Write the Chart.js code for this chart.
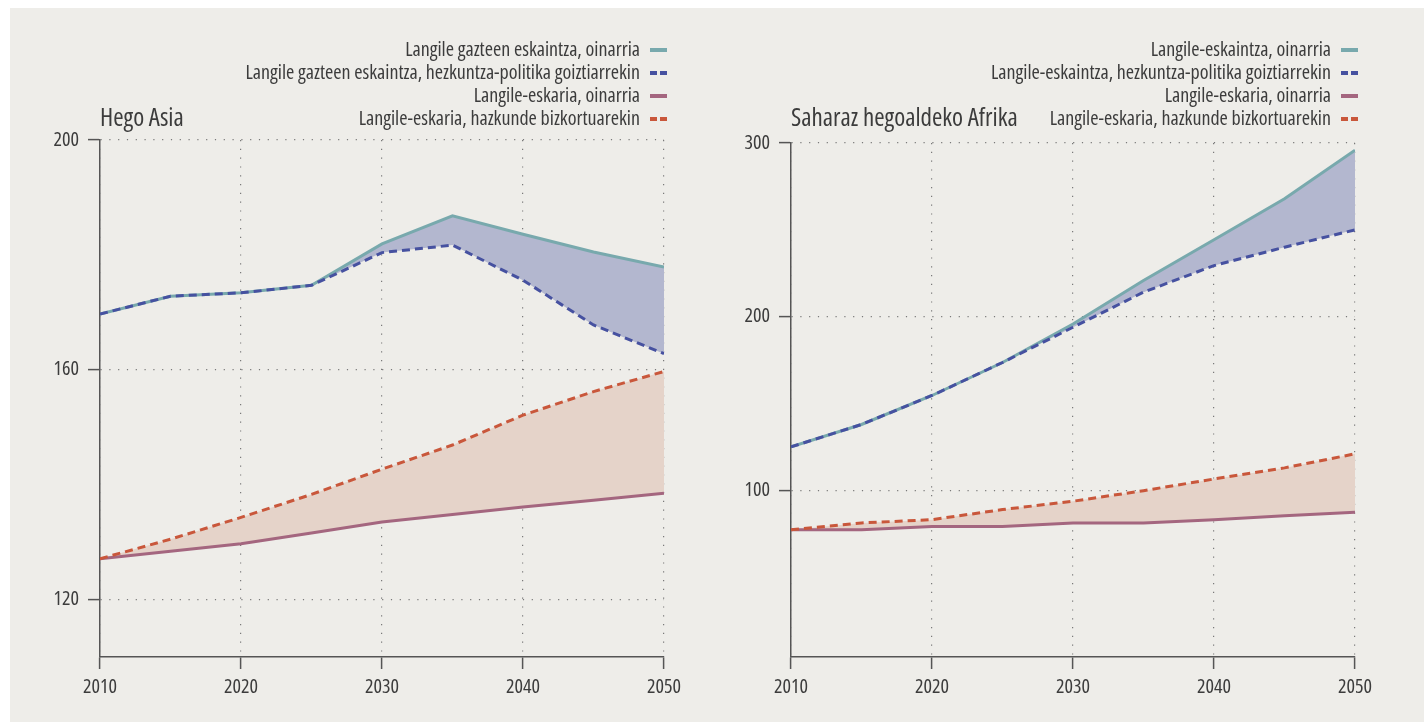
<!DOCTYPE html>
<html>
<head>
<meta charset="utf-8">
<script src="https://cdn.jsdelivr.net/npm/chart.js@4/dist/chart.umd.min.js"></script>
<style>
  body { margin: 0; background: #fff; }
  #panel { position: absolute; left: 10px; top: 8px; width: 1414px; height: 714px; background: #eeede9; }
  canvas { position: absolute; top: 0; }
  #asia { left: 0; }
  #afrika { left: 712px; }
</style>
</head>
<body>
<div id="panel"></div>
<canvas id="asia" width="712" height="722"></canvas>
<canvas id="afrika" width="712" height="722"></canvas>
<script>
// Open Sans has a width axis; "condensed" gets close to the original narrow face
var FONT = "'Open Sans', sans-serif"
var STRETCH = "condensed"
var TEXT = "#3c3c3c"
var AXIS = "#555555"

var TEAL = "#78a9ad"
var BLUE = "#4651a0"
var MAUVE = "#a4667f"
var ORANGE = "#c9573b"
var BLUE_FILL = "#b3b7cf"
var PINK_FILL = "#e5d3c9"

var years = [2010, 2015, 2020, 2025, 2030, 2035, 2040, 2045, 2050]

// Hego Asia
var asiaSupplyBase = [169.7, 172.8, 173.4, 174.7, 181.9, 186.8, 183.6, 180.5, 177.9]
var asiaSupplyEdu  = [169.7, 172.8, 173.4, 174.7, 180.4, 181.7, 175.6, 167.8, 162.8]
var asiaDemandBase = [127.1, 128.4, 129.7, 131.6, 133.5, 134.8, 136.1, 137.3, 138.5]
var asiaDemandFast = [127.1, 130.5, 134.3, 138.3, 142.7, 146.9, 152.1, 156.2, 159.7]
var asiaTicks = [120, 160, 200]
var asiaLabels = [
  "Langile gazteen eskaintza, oinarria",
  "Langile gazteen eskaintza, hezkuntza-politika goiztiarrekin",
  "Langile-eskaria, oinarria",
  "Langile-eskaria, hazkunde bizkortuarekin"
]

// Saharaz hegoaldeko Afrika
var afrSupplyBase = [125.0, 137.9, 154.6, 173.6, 195.8, 220.8, 244.3, 267.9, 295.8]
var afrSupplyEdu  = [125.0, 137.9, 154.6, 173.6, 193.9, 214.1, 229.4, 240.0, 250.0]
var afrDemandBase = [77.3, 77.3, 79.2, 79.2, 81.2, 81.2, 83.1, 85.4, 87.3]
var afrDemandFast = [77.3, 81.2, 83.1, 88.9, 93.7, 99.8, 106.5, 112.9, 121.0]
var afrTicks = [100, 200, 300]
var afrLabels = [
  "Langile-eskaintza, oinarria",
  "Langile-eskaintza, hezkuntza-politika goiztiarrekin",
  "Langile-eskaria, oinarria",
  "Langile-eskaria, hazkunde bizkortuarekin"
]

function pts(vals) {
  return years.map(function (y, i) { return { x: y, y: vals[i] } })
}

// legend at top right + panel title
var sideLegend = {
  id: "sideLegend",
  afterDraw: function (chart, args, opts) {
    var ctx = chart.ctx
    var a = chart.chartArea
    ctx.save()
    ctx.font = STRETCH + " 20px " + FONT
    ctx.fillStyle = TEXT
    ctx.textAlign = "right"
    ctx.textBaseline = "middle"
    chart.data.datasets.forEach(function (ds, i) {
      var y = 50 + i * 23
      var x1 = a.right + 3
      var x0 = x1 - 17
      ctx.strokeStyle = ds.borderColor
      ctx.lineWidth = 4
      ctx.setLineDash(ds.borderDash ? [7, 3] : [])
      ctx.beginPath()
      ctx.moveTo(x0, y)
      ctx.lineTo(x1, y)
      ctx.stroke()
      ctx.fillText(ds.label, x0 - 10, y)
    })
    ctx.setLineDash([])
    ctx.font = STRETCH + " 25px " + FONT
    ctx.textAlign = "left"
    ctx.textBaseline = "alphabetic"
    ctx.fillText(opts.text, a.left, 126)
    ctx.restore()
  }
}

function makeChart(id, title, labels, s1, s2, d1, d2, yMin, yMax, yTicks, yWidth, padRight, padTop) {
  return new Chart(document.getElementById(id), {
    type: "line",
    data: {
      datasets: [
        { label: labels[0], data: pts(s1), borderColor: TEAL, borderWidth: 3, fill: "+1", backgroundColor: BLUE_FILL, order: 1 },
        { label: labels[1], data: pts(s2), borderColor: BLUE, borderWidth: 3, borderDash: [8, 5], fill: false, order: 0 },
        { label: labels[2], data: pts(d1), borderColor: MAUVE, borderWidth: 3, fill: false, order: 1 },
        { label: labels[3], data: pts(d2), borderColor: ORANGE, borderWidth: 3, borderDash: [8, 5], fill: "-1", backgroundColor: PINK_FILL, order: 0 }
      ]
    },
    options: {
      responsive: false,
      animation: false,
      devicePixelRatio: 1,
      elements: { point: { radius: 0 }, line: { tension: 0 } },
      layout: { padding: { left: 0, right: padRight, top: padTop, bottom: 20 } },
      plugins: {
        legend: { display: false },
        tooltip: { enabled: false },
        filler: { drawTime: "beforeDatasetsDraw" },
        sideLegend: { text: title }
      },
      scales: {
        x: {
          type: "linear",
          min: 2010,
          max: 2050,
          ticks: {
            stepSize: 10,
            callback: function (v) { return String(v) },
            color: TEXT,
            font: { family: FONT, weight: STRETCH, size: 20 },
            padding: 6,
            maxRotation: 0
          },
          grid: { color: "#7a7a7a", lineWidth: 1.2, tickLength: 12, tickColor: AXIS, tickWidth: 1.5 },
          border: { color: AXIS, width: 1.5, dash: [1.2, 7.6] },
          afterFit: function (s) { s.height = 45; s.paddingLeft = 0; s.paddingRight = 0 }
        },
        y: {
          min: yMin,
          max: yMax,
          afterBuildTicks: function (s) { s.ticks = yTicks.map(function (v) { return { value: v } }) },
          ticks: {
            color: TEXT,
            font: { family: FONT, weight: STRETCH, size: 20 },
            padding: 9
          },
          grid: { color: "#7a7a7a", lineWidth: 1.2, tickLength: 12, tickColor: AXIS, tickWidth: 1.5 },
          border: { color: AXIS, width: 1.5, dash: [1.2, 7.6] },
          afterFit: function (s) { s.width = yWidth; s.paddingTop = 0; s.paddingBottom = 0 }
        }
      }
    },
    plugins: [sideLegend]
  })
}

makeChart("asia", "Hego Asia", asiaLabels, asiaSupplyBase, asiaSupplyEdu, asiaDemandBase, asiaDemandFast,
  110, 200, asiaTicks, 100, 48, 140)
makeChart("afrika", "Saharaz hegoaldeko Afrika", afrLabels, afrSupplyBase, afrSupplyEdu, afrDemandBase, afrDemandFast,
  4, 300, afrTicks, 79, 69, 143)
</script>
</body>
</html>
